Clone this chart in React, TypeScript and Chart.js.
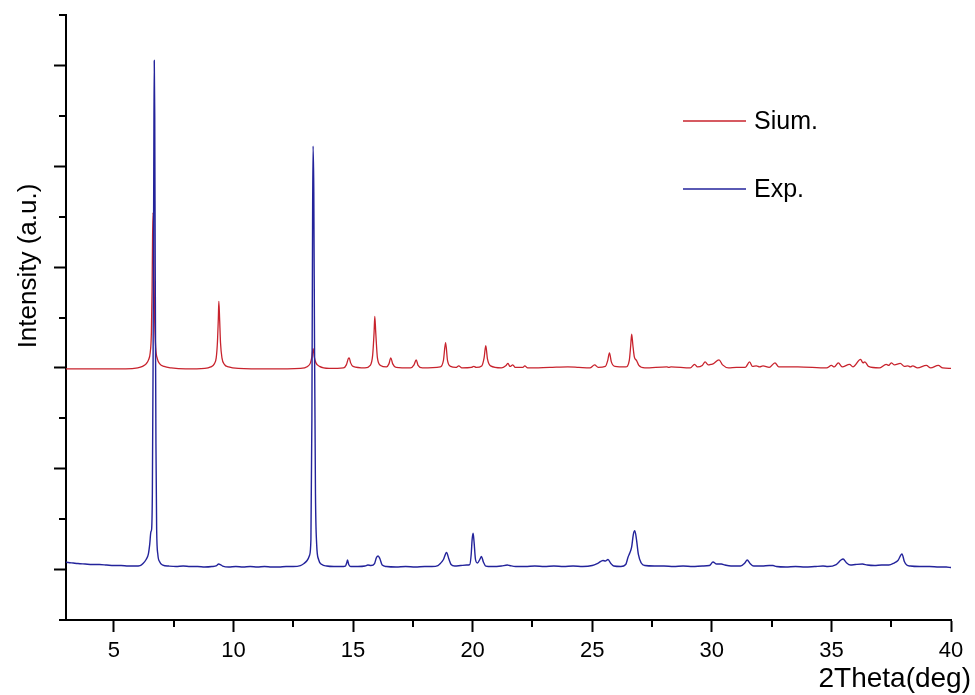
import React, { useEffect, useRef } from "react";
import { Chart, registerables } from "chart.js";

Chart.register(...registerables);

// ---- Data ----
const seriesLabels = ["Sium.", "Exp."];
const seriesColors = ["rgb(200,35,45)", "rgb(35,35,155)"];

const xMajorTicks = [5, 10, 15, 20, 25, 30, 35, 40];
const xMinorTicks = [7.5, 12.5, 17.5, 22.5, 27.5, 32.5, 37.5];
const yMajorTicks = [1, 3, 5, 7, 9, 11];
const yMinorTicks = [0, 2, 4, 6, 8, 10, 12];

const simPoints: [number, number][] = [
  [3.0, 4.98], [5.5, 4.98], [6.0, 5.0], [6.2, 5.03], [6.35, 5.08], [6.45, 5.16], [6.52, 5.3],
  [6.57, 5.7], [6.6, 6.6], [6.62, 7.6], [6.64, 8.08], [6.66, 7.7], [6.68, 6.8], [6.71, 5.9],
  [6.75, 5.4], [6.82, 5.18], [6.92, 5.08], [7.1, 5.03], [7.4, 5.0], [8.0, 4.98], [8.8, 4.99],
  [9.05, 5.02], [9.2, 5.08], [9.28, 5.2], [9.33, 5.5], [9.37, 6.0], [9.39, 6.32], [9.42, 6.0],
  [9.46, 5.5], [9.52, 5.2], [9.62, 5.07], [9.8, 5.02], [10.2, 4.99], [11.5, 4.98], [12.8, 4.99],
  [13.1, 5.03], [13.22, 5.1], [13.28, 5.22], [13.33, 5.38], [13.38, 5.22], [13.45, 5.1],
  [13.6, 5.03], [14.0, 4.99], [14.6, 5.0], [14.72, 5.06], [14.8, 5.18], [14.84, 5.2], [14.9, 5.1],
  [15.0, 5.03], [15.5, 5.0], [15.72, 5.05], [15.82, 5.25], [15.88, 5.7], [15.91, 6.02],
  [15.95, 5.7], [16.02, 5.2], [16.15, 5.05], [16.4, 5.02], [16.5, 5.08], [16.58, 5.2],
  [16.66, 5.08], [16.8, 5.01], [17.4, 5.0], [17.55, 5.06], [17.64, 5.16], [17.72, 5.05],
  [17.9, 5.0], [18.65, 5.02], [18.78, 5.15], [18.87, 5.5], [18.95, 5.15], [19.08, 5.03],
  [19.3, 5.01], [19.42, 5.04], [19.55, 5.0], [19.95, 5.01], [20.05, 5.03], [20.15, 5.01],
  [20.38, 5.04], [20.48, 5.2], [20.55, 5.44], [20.62, 5.18], [20.75, 5.04], [21.2, 5.0],
  [21.4, 5.05], [21.48, 5.09], [21.56, 5.03], [21.68, 5.06], [21.78, 5.01], [22.1, 5.01],
  [22.18, 5.04], [22.3, 5.0], [23.22, 5.01], [23.98, 5.02], [24.44, 5.01], [24.9, 5.0],
  [25.1, 5.06], [25.25, 5.01], [25.55, 5.03], [25.65, 5.15], [25.72, 5.3], [25.8, 5.12],
  [25.95, 5.03], [26.4, 5.02], [26.55, 5.15], [26.61, 5.45], [26.65, 5.67], [26.7, 5.45],
  [26.76, 5.22], [26.85, 5.15], [26.95, 5.05], [27.2, 5.0], [28.12, 5.02], [28.2, 5.01],
  [28.3, 5.02], [29.1, 5.0], [29.28, 5.07], [29.4, 5.02], [29.6, 5.05], [29.72, 5.12],
  [29.85, 5.06], [29.96, 5.07], [30.05, 5.08], [30.3, 5.16], [30.45, 5.06], [30.7, 5.0],
  [31.03, 5.01], [31.4, 5.01], [31.58, 5.12], [31.7, 5.03], [31.86, 5.04], [32.0, 5.02],
  [32.14, 5.04], [32.4, 5.01], [32.64, 5.1], [32.8, 5.02], [33.6, 5.02], [34.8, 5.0],
  [35.0, 5.05], [35.12, 5.02], [35.29, 5.1], [35.45, 5.02], [35.76, 5.07], [35.9, 5.02],
  [36.22, 5.17], [36.32, 5.1], [36.4, 5.12], [36.55, 5.03], [37.0, 5.0], [37.29, 5.07],
  [37.4, 5.05], [37.5, 5.1], [37.64, 5.06], [37.88, 5.09], [38.05, 5.03], [38.2, 5.04],
  [38.3, 5.02], [38.4, 5.04], [38.6, 5.0], [38.97, 5.05], [39.15, 5.0], [39.47, 5.05],
  [39.65, 5.0], [40.0, 4.99],
];

const expPoints: [number, number][] = [
  [3.0, 1.15], [3.1, 1.14], [3.3, 1.13], [3.5, 1.12], [3.8, 1.11], [4.1, 1.1], [4.4, 1.1],
  [4.7, 1.09], [5.0, 1.08], [5.3, 1.08], [5.6, 1.07], [5.9, 1.07], [6.1, 1.08], [6.22, 1.12],
  [6.35, 1.2], [6.44, 1.3], [6.5, 1.5], [6.55, 1.75], [6.58, 1.8], [6.61, 2.5], [6.64, 5.0],
  [6.67, 9.0], [6.69, 11.1], [6.71, 10.0], [6.73, 7.0], [6.76, 3.5], [6.79, 1.8], [6.84, 1.3],
  [6.92, 1.15], [7.05, 1.09], [7.3, 1.07], [7.6, 1.06], [7.9, 1.07], [8.2, 1.06], [8.5, 1.06],
  [8.8, 1.05], [9.1, 1.06], [9.3, 1.08], [9.38, 1.11], [9.45, 1.1], [9.55, 1.07], [9.8, 1.05],
  [10.1, 1.06], [10.4, 1.05], [10.7, 1.06], [11.0, 1.05], [11.3, 1.06], [11.6, 1.05],
  [11.9, 1.05], [12.2, 1.06], [12.5, 1.06], [12.8, 1.08], [12.95, 1.12], [13.08, 1.18],
  [13.18, 1.28], [13.24, 1.6], [13.28, 4.0], [13.31, 8.0], [13.33, 9.4], [13.36, 8.5],
  [13.39, 5.5], [13.43, 2.5], [13.48, 1.5], [13.56, 1.2], [13.7, 1.1], [13.9, 1.07],
  [14.2, 1.06], [14.5, 1.06], [14.68, 1.07], [14.74, 1.14], [14.77, 1.19], [14.82, 1.1],
  [14.9, 1.06], [15.2, 1.06], [15.5, 1.07], [15.62, 1.09], [15.75, 1.08], [15.9, 1.12],
  [15.98, 1.24], [16.05, 1.27], [16.12, 1.22], [16.22, 1.09], [16.4, 1.06], [16.8, 1.05],
  [17.2, 1.06], [17.6, 1.05], [18.0, 1.06], [18.3, 1.06], [18.55, 1.08], [18.65, 1.12],
  [18.78, 1.2], [18.91, 1.34], [19.0, 1.22], [19.1, 1.1], [19.25, 1.07], [19.5, 1.08],
  [19.75, 1.09], [19.88, 1.1], [19.94, 1.3], [19.98, 1.6], [20.02, 1.72], [20.06, 1.55],
  [20.12, 1.2], [20.2, 1.13], [20.3, 1.2], [20.37, 1.26], [20.45, 1.15], [20.55, 1.07],
  [20.8, 1.06], [21.2, 1.07], [21.45, 1.09], [21.55, 1.08], [21.8, 1.06], [22.2, 1.06],
  [22.6, 1.07], [23.0, 1.06], [23.4, 1.07], [23.8, 1.06], [24.2, 1.07], [24.6, 1.06],
  [25.0, 1.08], [25.25, 1.13], [25.45, 1.18], [25.55, 1.17], [25.66, 1.2], [25.78, 1.12],
  [25.9, 1.07], [26.2, 1.06], [26.4, 1.1], [26.5, 1.25], [26.57, 1.33], [26.65, 1.45],
  [26.72, 1.7], [26.78, 1.77], [26.85, 1.6], [26.93, 1.3], [27.05, 1.13], [27.2, 1.08],
  [27.6, 1.07], [28.0, 1.07], [28.4, 1.06], [28.8, 1.07], [29.2, 1.06], [29.6, 1.07],
  [29.9, 1.08], [30.05, 1.15], [30.2, 1.11], [30.4, 1.11], [30.55, 1.09], [30.8, 1.07],
  [31.2, 1.07], [31.38, 1.13], [31.48, 1.19], [31.6, 1.12], [31.75, 1.07], [32.1, 1.07],
  [32.4, 1.08], [32.56, 1.08], [32.7, 1.06], [33.1, 1.05], [33.5, 1.06], [33.9, 1.05],
  [34.3, 1.06], [34.65, 1.07], [34.85, 1.06], [35.2, 1.1], [35.4, 1.19], [35.49, 1.21],
  [35.62, 1.14], [35.8, 1.09], [36.0, 1.1], [36.3, 1.11], [36.5, 1.09], [36.8, 1.08],
  [37.1, 1.09], [37.4, 1.09], [37.62, 1.13], [37.78, 1.18], [37.95, 1.31], [38.05, 1.16],
  [38.15, 1.09], [38.3, 1.07], [38.7, 1.06], [39.1, 1.06], [39.5, 1.05], [39.8, 1.05],
  [40.0, 1.04],
];

const xTitle = "2Theta(deg)";
const yTitle = "Intensity (a.u.)";
const FONT = "'Liberation Sans', Arial, sans-serif";

const decorPlugin = {
  id: "decor",
  afterDraw(chart: any) {
    const { ctx, scales } = chart;
    const xs = scales.x;
    const ys = scales.y;
    const area = chart.chartArea;
    ctx.save();
    ctx.strokeStyle = "#000";
    ctx.lineWidth = 2;
    ctx.beginPath();
    xMinorTicks.forEach((v) => {
      const px = Math.round(xs.getPixelForValue(v));
      ctx.moveTo(px, area.bottom);
      ctx.lineTo(px, area.bottom + 7);
    });
    yMinorTicks.forEach((v) => {
      const py = Math.round(ys.getPixelForValue(v));
      ctx.moveTo(area.left - 7, py);
      ctx.lineTo(area.left, py);
    });
    ctx.stroke();

    // axis titles
    ctx.fillStyle = "#000";
    ctx.font = `28px ${FONT}`;
    ctx.textAlign = "right";
    ctx.textBaseline = "alphabetic";
    ctx.fillText(xTitle, 971, 687);

    ctx.save();
    ctx.translate(36, 266);
    ctx.rotate(-Math.PI / 2);
    ctx.font = `26px ${FONT}`;
    ctx.textAlign = "center";
    ctx.textBaseline = "alphabetic";
    ctx.fillText(yTitle, 0, 0);
    ctx.restore();

    // legend
    const legendY = [121, 189];
    chart.data.datasets.forEach((ds: any, i: number) => {
      const y = legendY[i];
      ctx.strokeStyle = ds.borderColor;
      ctx.lineWidth = 1.5;
      ctx.beginPath();
      ctx.moveTo(683, y);
      ctx.lineTo(746, y);
      ctx.stroke();
      ctx.fillStyle = "#000";
      ctx.font = `25px ${FONT}`;
      ctx.textAlign = "left";
      ctx.textBaseline = "middle";
      ctx.fillText(ds.label, 754, y + 1);
    });
    ctx.restore();
  },
};

export default function App() {
  const canvasRef = useRef<HTMLCanvasElement | null>(null);

  useEffect(() => {
    document.body.style.margin = "0";
    const canvas = canvasRef.current;
    if (!canvas) return;
    const chart = new Chart(canvas, {
      type: "line",
      data: {
        datasets: [
          {
            label: seriesLabels[0],
            data: simPoints.map(([x, y]) => ({ x, y })),
            borderColor: seriesColors[0],
            borderWidth: 1.3,
            pointRadius: 0,
            cubicInterpolationMode: "monotone",
            order: 1,
          },
          {
            label: seriesLabels[1],
            data: expPoints.map(([x, y]) => ({ x, y })),
            borderColor: seriesColors[1],
            borderWidth: 1.4,
            pointRadius: 0,
            cubicInterpolationMode: "monotone",
            order: 0,
          },
        ],
      },
      options: {
        animation: false,
        responsive: false,
        devicePixelRatio: 1,
        layout: { padding: { left: 0, right: 24, top: 15, bottom: 0 } },
        plugins: {
          legend: { display: false },
          tooltip: { enabled: false },
        },
        scales: {
          x: {
            type: "linear",
            min: 3,
            max: 40,
            afterBuildTicks: (s: any) => {
              s.ticks = xMajorTicks.map((v) => ({ value: v }));
            },
            afterFit: (s: any) => {
              s.height = 75;
            },
            ticks: {
              color: "#000",
              font: { family: FONT, size: 22 },
              padding: 6,
              maxRotation: 0,
              autoSkip: false,
              callback: (v: any) => String(v),
            },
            grid: {
              drawOnChartArea: false,
              drawTicks: true,
              tickLength: 12,
              tickWidth: 2,
              tickColor: "#000",
            },
            border: { display: true, color: "#000", width: 2 },
          },
          y: {
            type: "linear",
            min: 0,
            max: 12,
            afterBuildTicks: (s: any) => {
              s.ticks = yMajorTicks.map((v) => ({ value: v }));
            },
            afterFit: (s: any) => {
              s.width = 66;
            },
            ticks: { display: false },
            grid: {
              drawOnChartArea: false,
              drawTicks: true,
              tickLength: 12,
              tickWidth: 2,
              tickColor: "#000",
            },
            border: { display: true, color: "#000", width: 2 },
          },
        },
      },
      plugins: [decorPlugin],
    } as any);
    return () => chart.destroy();
  }, []);

  return (
    <div style={{ width: 975, height: 695, background: "#fff" }}>
      <canvas ref={canvasRef} width={975} height={695} style={{ display: "block" }} />
    </div>
  );
}
